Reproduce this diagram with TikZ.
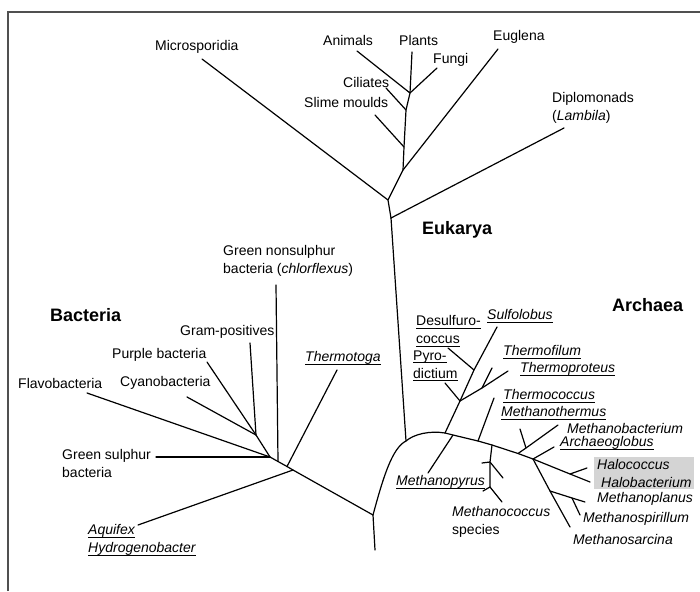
\documentclass[tikz,border=0pt]{standalone}
\usepackage{fontspec}
\setmainfont{Liberation Sans}
\usetikzlibrary{positioning,calc}
\definecolor{frameGray}{RGB}{80,80,80}
\definecolor{haloGray}{RGB}{212,212,212}
\tikzset{
  branch/.style={line width=1.2pt, black, line cap=round, line join=round},
  lbl/.style={anchor=west, inner sep=0pt, align=left, font=\fontsize{14}{18}\selectfont},
  domainlbl/.style={anchor=west, inner sep=0pt, font=\fontsize{18}{20}\selectfont\bfseries},
  frameln/.style={line width=1.5pt, frameGray},
}
\newsavebox{\taxbox}
\newcommand{\taxul}[1]{\sbox{\taxbox}{#1}\rlap{\usebox{\taxbox}}\rule[-3pt]{\wd\taxbox}{0.9pt}}

\begin{document}
\begin{tikzpicture}[x=1pt, y=-1pt]
    \useasboundingbox (0,0) rectangle (700,591);
    % frame
    \draw[frameln] (8,591) -- (8,12) -- (700,12);

    % eukarya
    \coordinate (jMicro) at (388,200);  \coordinate (jDiplo) at (391,218);
    \coordinate (jEugl) at (403,170);   \coordinate (jSlime) at (404,147);
    \coordinate (jCil) at (406,110);    \coordinate (jPlant) at (410,93);
    \coordinate (tMicro) at (202,59);   \coordinate (tAnim) at (357,51);
    \coordinate (tPlant) at (412,52);   \coordinate (tFungi) at (437,68);
    \coordinate (tCil) at (386,88);     \coordinate (tSlime) at (375,115);
    \coordinate (tEugl) at (498,49);    \coordinate (tDiplo) at (564,128);
    \draw[branch] (jDiplo) -- (jMicro) -- (jEugl) -- (jSlime) -- (jCil) -- (jPlant) -- (tPlant);
    \draw[branch] (tAnim) -- (jPlant) -- (tFungi);
    \draw[branch] (tMicro) -- (jMicro);
    \draw[branch] (tCil) -- (jCil);
    \draw[branch] (tSlime) -- (jSlime);
    \draw[branch] (tEugl) -- (jEugl);
    \draw[branch] (tDiplo) -- (jDiplo);

    % trunk and archaea arc
    \coordinate (jTrunk) at (406,441);  \coordinate (jRoot) at (373,515);
    \coordinate (tRoot) at (375,550);
    \coordinate (jCren) at (445,433);   \coordinate (jPyrus) at (453,435);
    \coordinate (jThmc) at (478,441);   \coordinate (jMcoc) at (492,445);
    \coordinate (jMbac) at (518,453.5); \coordinate (jArch) at (533,459);
    \coordinate (jHalo) at (570,474);   \coordinate (tHalob) at (590,482);
    \draw[branch] (jDiplo) -- (jTrunk);
    \draw[branch] (tRoot) -- (jRoot) .. controls (383,478) and (392,448) .. (jTrunk)
      .. controls (414,434) and (430,430.5) .. (jCren) -- (jPyrus) -- (jThmc) -- (jMcoc)
      -- (jMbac) -- (jArch) -- (jHalo) -- (tHalob);

    % crenarchaeota
    \coordinate (jPyro) at (460,401);   \coordinate (jDesul) at (474,370);
    \coordinate (tSulfo) at (497,327);  \coordinate (tDesul) at (448,348);
    \coordinate (tPyrod) at (445,383);  \coordinate (jTprot) at (482,388);
    \coordinate (tTfil) at (492,368);   \coordinate (tTprot) at (508,371);
    \draw[branch] (jCren) -- (jPyro) -- (jDesul) -- (tSulfo);
    \draw[branch] (tDesul) -- (jDesul);
    \draw[branch] (tPyrod) -- (jPyro) -- (jTprot) -- (tTprot);
    \draw[branch] (jTprot) -- (tTfil);

    % euryarchaeota
    \coordinate (tThmc) at (494,398);   \coordinate (tPyrus) at (428,473);
    \coordinate (jMc1) at (490,462);    \coordinate (jMc2) at (490,487);
    \coordinate (tMc1a) at (482,463);   \coordinate (tMc1b) at (503,478);
    \coordinate (tMc2a) at (483,491);   \coordinate (tMc2b) at (502,502);
    \coordinate (jMb1) at (526,448);    \coordinate (tMbac) at (558,425);
    \coordinate (tMb2) at (520,429);    \coordinate (tArch) at (554,447);
    \coordinate (tHaloc) at (587,468);
    \coordinate (jMpla) at (550,491);   \coordinate (tMsar) at (570,527);
    \coordinate (jMspi) at (572,498);   \coordinate (tMpla) at (585,502);
    \coordinate (tMspi) at (580,515);
    \draw[branch] (tThmc) -- (jThmc);
    \draw[branch] (tPyrus) -- (jPyrus);
    \draw[branch] (jMcoc) -- (jMc1) -- (jMc2) -- (tMc2b);
    \draw[branch] (tMc1a) -- (jMc1) -- (tMc1b);
    \draw[branch] (tMc2a) -- (jMc2);
    \draw[branch] (jMbac) -- (jMb1) -- (tMbac);
    \draw[branch] (jMb1) -- (tMb2);
    \draw[branch] (jArch) -- (tArch);
    \draw[branch] (jHalo) -- (tHaloc);
    \draw[branch] (jArch) -- (jMpla) -- (tMsar);
    \draw[branch] (jMpla) -- (jMspi) -- (tMpla);
    \draw[branch] (jMspi) -- (tMspi);

    % bacteria
    \coordinate (jBac) at (293,470);    \coordinate (jTtoga) at (287,466.5);
    \coordinate (jGns) at (278,461.5);  \coordinate (jGs) at (270,457);
    \coordinate (jGram) at (256,435);
    \coordinate (tAquif) at (138,525);  \coordinate (tTtoga) at (337,370);
    \coordinate (tGns) at (276,285);    \coordinate (tGs) at (156,457);
    \coordinate (tFlavo) at (87,393);   \coordinate (tGram) at (250,343);
    \coordinate (tPurp) at (207,362);   \coordinate (tCyano) at (187,397);
    \draw[branch] (jRoot) -- (jBac) -- (jTtoga) -- (jGns) -- (jGs) -- (jGram) -- (tGram);
    \draw[branch] (tAquif) -- (jBac);
    \draw[branch] (tTtoga) -- (jTtoga);
    \draw[branch] (tGns) -- (jGns);
    \draw[branch] (tGs) -- (jGs);
    \draw[branch] (tFlavo) -- (jGs);
    \draw[branch] (tPurp) -- (jGram);
    \draw[branch] (tCyano) -- (jGram);

    % domain names
    \node[domainlbl] (euk) at (422,230) {Eukarya};
    \node[domainlbl] (arc) at (612,305) {Archaea};
    \node[domainlbl] (bac) at (50,315) {Bacteria};

    % eukarya labels
    \node[lbl] (micro) at (155,47) {Microsporidia};
    \node[lbl] (anim) at (323,40) {Animals};
    \node[lbl] (plant) at (399,40) {Plants};
    \node[lbl] (fungi) at (433,60) {Fungi};
    \node[lbl] (cil) at (343,82) {Ciliates};
    \node[lbl] (slime) at (304,102) {Slime moulds};
    \node[lbl] (eugl) at (493,37) {Euglena};
    \node[lbl] (diplo) at (552,108) {Diplomonads\\(\textit{Lambila})};

    % archaea labels
    \node[lbl] (sulfo) at (487,316) {\taxul{\itshape Sulfolobus}};
    \node[lbl] (desul) at (416,331) {\taxul{Desulfuro-}\\\taxul{coccus}};
    \node[lbl] (pyrod) at (413,366) {\taxul{Pyro-}\\\taxul{dictium}};
    \node[lbl] (tfil) at (503,352) {\taxul{\itshape Thermofilum}};
    \node[lbl] (tprot) at (520,369) {\taxul{\itshape Thermoproteus}};
    \node[lbl] (thmc) at (503,396) {\taxul{\itshape Thermococcus}};
    \node[lbl] (mthm) at (501,413) {\taxul{\itshape Methanothermus}};
    \node[lbl] (mbac) at (567,428) {\textit{Methanobacterium}};
    \node[lbl] (archg) at (560,443) {\taxul{\itshape Archaeoglobus}};
    \node[lbl, fill=haloGray, inner xsep=3pt, inner ysep=2pt] (halo) at (594,473)
      {\textit{Halococcus}\\\hspace{4pt}\textit{Halobacterium}};
    \node[lbl] (mpla) at (597,499) {\textit{Methanoplanus}};
    \node[lbl] (mspi) at (583,519) {\textit{Methanospirillum}};
    \node[lbl] (msar) at (573,539) {\textit{Methanosarcina}};
    \node[lbl] (mpyr) at (396,482) {\taxul{\itshape Methanopyrus}};
    \node[lbl] (mcoc) at (452,522) {\textit{Methanococcus}\\species};

    % bacteria labels
    \node[lbl] (gns) at (223,261) {Green nonsulphur\\bacteria (\textit{chlorflexus})};
    \node[lbl] (gram) at (180,332) {Gram-positives};
    \node[lbl] (purp) at (112,355) {Purple bacteria};
    \node[lbl] (flavo) at (18,383) {Flavobacteria};
    \node[lbl] (cyano) at (120,383) {Cyanobacteria};
    \node[lbl] (gs) at (62,463) {Green sulphur\\bacteria};
    \node[lbl] (ttoga) at (305,358) {\taxul{\itshape Thermotoga}};
    \node[lbl] (aquif) at (88,540) {\taxul{\itshape Aquifex}\\\taxul{\itshape Hydrogenobacter}};
  \end{tikzpicture}
\end{document}
